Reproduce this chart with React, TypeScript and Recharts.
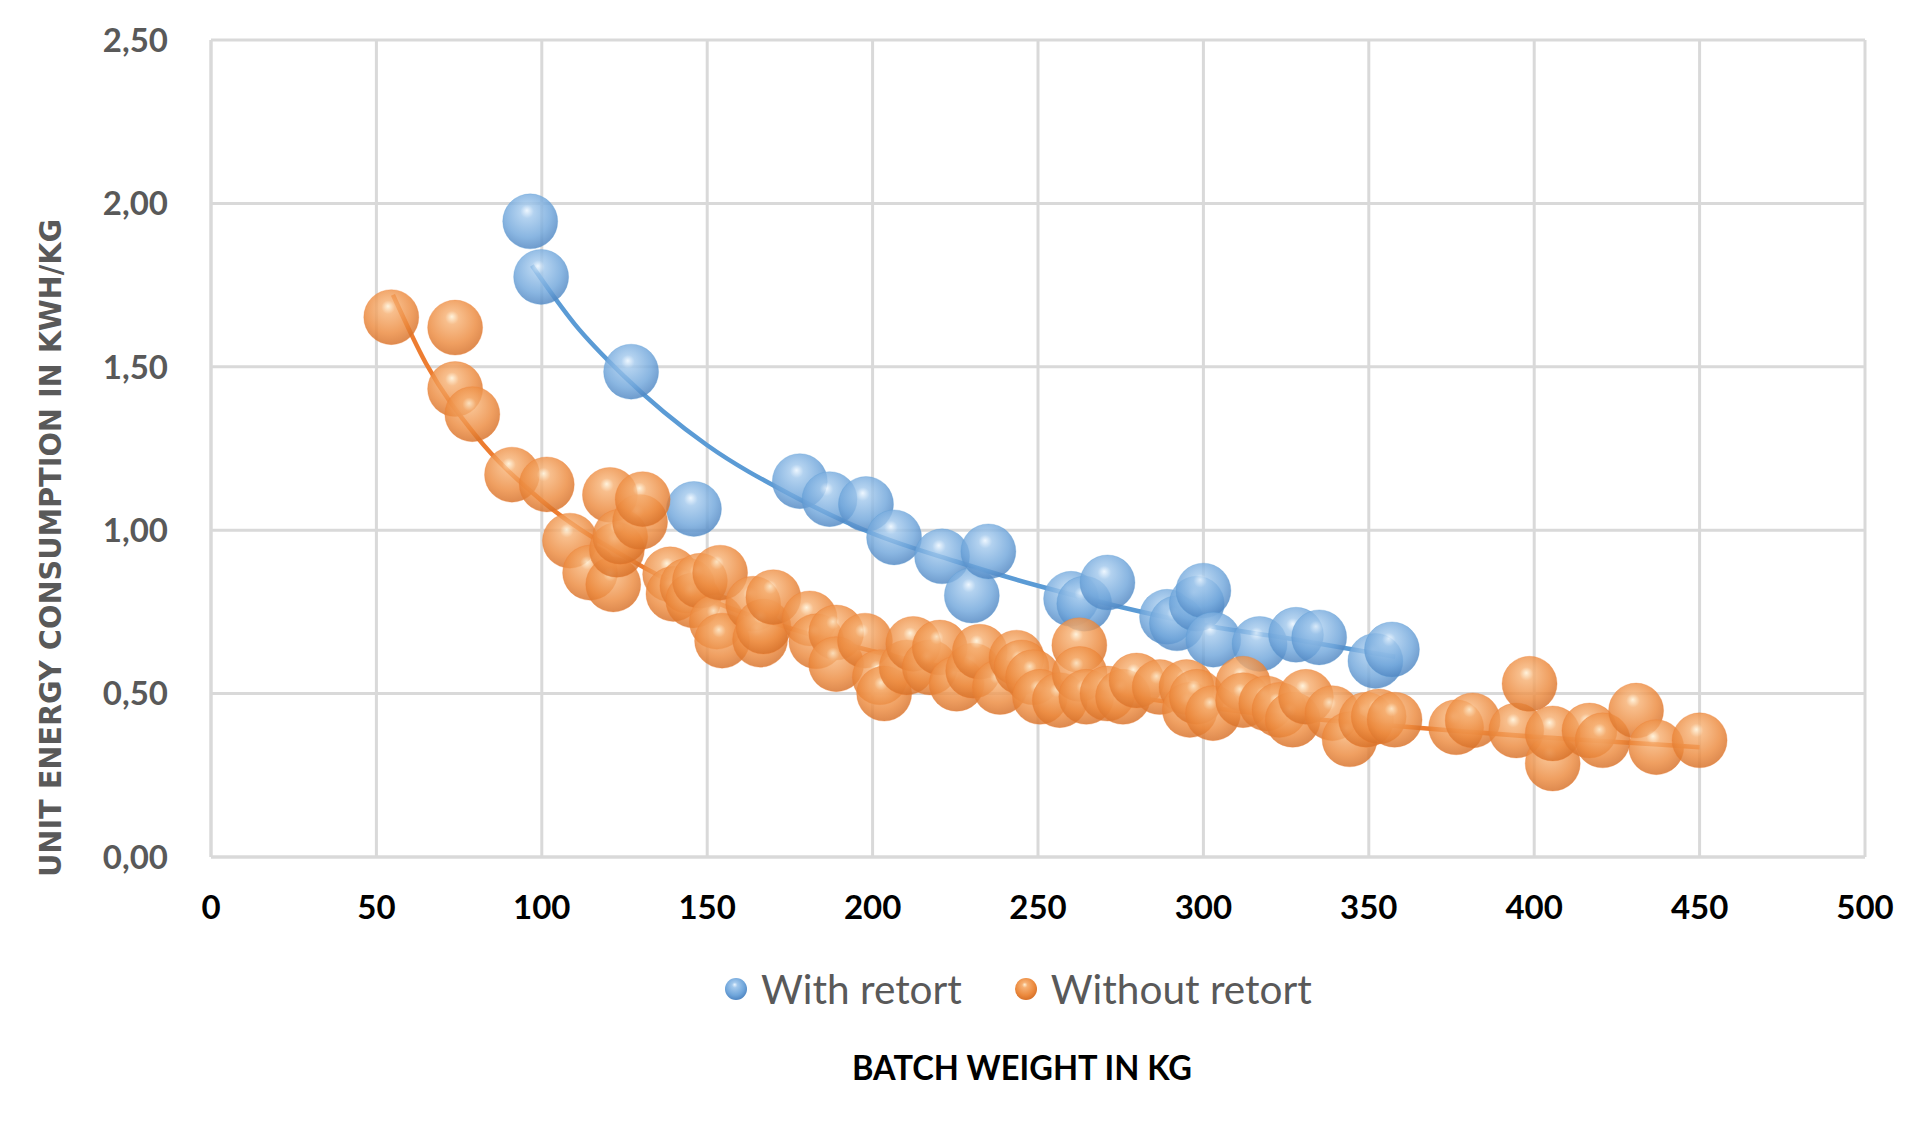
import React from "react";
import {
  ComposedChart,
  Scatter,
  Line,
  XAxis,
  YAxis,
  CartesianGrid,
  Legend,
  Label,
} from "recharts";

// batch weight (kg) / unit energy (kWh/kg)
const withRetortKg = [
  96.5, 99.8, 127, 146, 178, 187, 198, 206.5, 221, 230, 235, 260, 264, 271,
  289, 292, 298, 300, 303, 317, 328, 335, 352, 357,
];
const withRetortKwh = [
  1.945, 1.775, 1.485, 1.065, 1.15, 1.095, 1.08, 0.978, 0.92, 0.8, 0.935, 0.79,
  0.775, 0.84, 0.735, 0.715, 0.775, 0.815, 0.665, 0.652, 0.68, 0.672, 0.6,
  0.635,
];

const withoutRetortKg = [
  54.5, 73.8, 73.8, 79, 91, 101.5, 108.5, 114.6, 120.6, 121.6, 122.7, 123.7,
  129.7, 130.5, 138.8, 139.8, 144, 145.8, 147.8, 152.9, 153.9, 154.5, 163.9,
  166, 167, 170, 181, 183, 189, 189, 197.7, 202.2, 203.5, 210.3, 212.3, 217.3,
  220.3, 225.4, 230.4, 232.4, 238.5, 243.5, 245, 248.5, 250.6, 256.6, 262.5,
  262.6, 264.6, 271, 275.7, 279.8, 286.8, 294.9, 295.9, 298, 302.9, 312, 312,
  319, 323, 327, 331, 339, 344.2, 349.2, 353, 357.8, 376.4, 381.4, 394.6,
  398.6, 405.6, 405.6, 416.7, 420.7, 430.8, 436.9, 450,
];
const withoutRetortKwh = [
  1.652, 1.62, 1.432, 1.355, 1.17, 1.14, 0.968, 0.87, 1.108, 0.834, 0.94, 0.98,
  1.025, 1.095, 0.865, 0.805, 0.83, 0.785, 0.845, 0.72, 0.87, 0.662, 0.775,
  0.665, 0.705, 0.795, 0.73, 0.66, 0.687, 0.59, 0.662, 0.55, 0.5, 0.58, 0.652,
  0.58, 0.641, 0.53, 0.57, 0.628, 0.52, 0.61, 0.58, 0.55, 0.49, 0.48, 0.648,
  0.56, 0.49, 0.5, 0.49, 0.54, 0.52, 0.52, 0.45, 0.49, 0.44, 0.53, 0.48, 0.47,
  0.45, 0.42, 0.49, 0.44, 0.36, 0.42, 0.43, 0.42, 0.397, 0.418, 0.387, 0.53,
  0.286, 0.378, 0.387, 0.357, 0.448, 0.336, 0.357,
];

// trend lines
const withRetortTrendKg = [97, 110, 125, 150, 175, 200, 225, 250, 275, 300, 325, 358];
const withRetortTrendKwh = [1.81, 1.63, 1.47, 1.26, 1.11, 0.99, 0.905, 0.83, 0.765, 0.71, 0.67, 0.613];
const withoutRetortTrendKg = [55, 65, 80, 100, 125, 150, 175, 200, 225, 250, 275, 300, 325, 350, 375, 400, 425, 450];
const withoutRetortTrendKwh = [1.72, 1.51, 1.29, 1.09, 0.92, 0.79, 0.7, 0.63, 0.575, 0.53, 0.495, 0.46, 0.43, 0.408, 0.387, 0.368, 0.352, 0.336];

const xTicks = [0, 50, 100, 150, 200, 250, 300, 350, 400, 450, 500];
const yTicks = [0, 0.5, 1, 1.5, 2, 2.5];

const legendItems = [
  { name: "With retort", grad: "sphereBlue" },
  { name: "Without retort", grad: "sphereOrange" },
];

const zip = (xs: number[], ys: number[]) => xs.map((x, i) => ({ x, y: ys[i] }));

const withRetort = zip(withRetortKg, withRetortKwh);
const withoutRetort = zip(withoutRetortKg, withoutRetortKwh);
const withRetortTrend = zip(withRetortTrendKg, withRetortTrendKwh);
const withoutRetortTrend = zip(withoutRetortTrendKg, withoutRetortTrendKwh);

const BLUE = "#5B9BD5";
const ORANGE = "#ED7D31";
const GRID = "#D9D9D9";
const GREY_TEXT = "#595959";

const bubble = (grad: string, edge: string) => (props: any) => {
  const { cx, cy } = props;
  if (cx == null || cy == null) return null;
  return (
    <circle
      cx={cx}
      cy={cy}
      r={27.5}
      fill={`url(#${grad})`}
      fillOpacity={0.82}
      stroke={edge}
      strokeOpacity={0.3}
      strokeWidth={1}
    />
  );
};

const fmtY = (v: number) => v.toFixed(2).replace(".", ",");

function Gradients() {
  return (
    <svg width={0} height={0} style={{ position: "absolute" }}>
      <defs>
        <radialGradient id="sphereBlue" cx="46%" cy="40%" r="62%" fx="44%" fy="30%">
          <stop offset="0%" stopColor="#eaf5ff" />
          <stop offset="20%" stopColor="#a2c8ec" />
          <stop offset="68%" stopColor="#70a6db" />
          <stop offset="100%" stopColor="#4c83c0" />
        </radialGradient>
        <radialGradient id="sphereOrange" cx="46%" cy="40%" r="62%" fx="44%" fy="30%">
          <stop offset="0%" stopColor="#fff0d4" />
          <stop offset="20%" stopColor="#f6b073" />
          <stop offset="68%" stopColor="#ec8a3e" />
          <stop offset="100%" stopColor="#d56e26" />
        </radialGradient>
      </defs>
    </svg>
  );
}

function LegendRow() {
  return (
    <div style={{ display: "flex", alignItems: "center", gap: 52 }}>
      {legendItems.map((it) => (
        <div key={it.name} style={{ display: "flex", alignItems: "center" }}>
          <svg width={24} height={24}>
            <circle cx={12} cy={12} r={11} fill={`url(#${it.grad})`} />
          </svg>
          <span
            style={{
              marginLeft: 13,
              fontFamily: "Lato, sans-serif",
              fontSize: 40.5,
              color: GREY_TEXT,
              lineHeight: "46px",
              whiteSpace: "nowrap",
            }}
          >
            {it.name}
          </span>
        </div>
      ))}
    </div>
  );
}

export default function App() {
  return (
    <div style={{ position: "absolute", left: 0, top: 0, width: 1920, height: 1134, background: "#fff" }}>
      <Gradients />
      <ComposedChart
        width={1920}
        height={1134}
        margin={{ top: 40, right: 55, bottom: 217, left: 0 }}
      >
        <CartesianGrid stroke={GRID} strokeWidth={3} />
        <XAxis
          type="number"
          dataKey="x"
          domain={[0, 500]}
          ticks={xTicks}
          height={60}
          axisLine={{ stroke: GRID, strokeWidth: 3 }}
          tickLine={false}
          tickMargin={33}
          tick={{ fill: "#000", fontSize: 33, fontWeight: 700, fontFamily: "Lato, sans-serif" }}
        >
          <Label
            content={({ viewBox }: any) => (
              <text
                x={viewBox.x + viewBox.width / 2 - 16}
                y={1080}
                textAnchor="middle"
                fill="#000"
                fontSize={34}
                fontWeight={700}
                fontFamily="Lato, sans-serif"
                textLength={340}
                lengthAdjust="spacingAndGlyphs"
              >
                BATCH WEIGHT IN KG
              </text>
            )}
          />
        </XAxis>
        <YAxis
          type="number"
          dataKey="y"
          domain={[0, 2.5]}
          ticks={yTicks}
          width={211}
          axisLine={{ stroke: GRID, strokeWidth: 3 }}
          tickLine={false}
          tickMargin={37}
          tickFormatter={fmtY}
          tick={{ fill: GREY_TEXT, fontSize: 33, fontWeight: 700, fontFamily: "Lato, sans-serif" }}
        >
          <Label
            content={() => (
              <text
                x={0}
                y={0}
                transform="translate(61 548) rotate(-90)"
                textAnchor="middle"
                fill={GREY_TEXT}
                fontSize={31}
                fontWeight={700}
                fontFamily="DejaVu Sans, sans-serif"
                textLength={658}
                lengthAdjust="spacingAndGlyphs"
              >
                UNIT ENERGY CONSUMPTION IN KWH/KG
              </text>
            )}
          />
        </YAxis>
        <Legend
          verticalAlign="middle"
          align="center"
          layout="horizontal"
          wrapperStyle={{ top: 966, left: 724, width: "auto" }}
          content={() => <LegendRow />}
        />
        <Scatter
          name="With retort"
          data={withRetort}
          shape={bubble("sphereBlue", BLUE)}
          isAnimationActive={false}
          legendType="circle"
        />
        <Scatter
          name="Without retort"
          data={withoutRetort}
          shape={bubble("sphereOrange", ORANGE)}
          isAnimationActive={false}
          legendType="circle"
        />
        <Line
          data={withRetortTrend}
          dataKey="y"
          type="monotone"
          stroke={BLUE}
          strokeWidth={4.5}
          dot={false}
          activeDot={false}
          legendType="none"
          isAnimationActive={false}
        />
        <Line
          data={withoutRetortTrend}
          dataKey="y"
          type="monotone"
          stroke={ORANGE}
          strokeWidth={4.5}
          dot={false}
          activeDot={false}
          legendType="none"
          isAnimationActive={false}
        />
      </ComposedChart>
    </div>
  );
}
